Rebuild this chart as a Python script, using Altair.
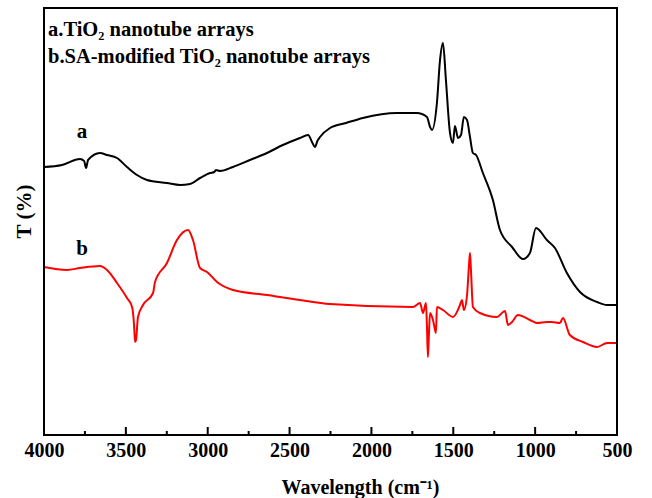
import altair as alt
import pandas as pd

# Curve a (black): wavenumber (cm-1) and transmittance (arbitrary units)
a_wave = [4000, 3890, 3780, 3755, 3743, 3731, 3658, 3615, 3554, 3493, 3432, 3371,
          3249, 3169, 3108, 3047, 2986, 2960, 2950, 2925, 2846, 2742, 2638, 2541,
          2437, 2387, 2360, 2345, 2330, 2314, 2253, 2155, 2052, 1844, 1722, 1661,
          1642, 1630, 1600, 1581, 1563, 1545, 1520, 1502, 1490, 1471, 1453, 1435,
          1416, 1398, 1380, 1361, 1319, 1258, 1215, 1141, 1074, 1032, 995, 928,
          879, 806, 726, 622, 561, 500]
a_T = [268, 270, 276, 274, 267, 275, 282, 280, 277, 268, 260, 255,
       252, 250, 251, 257, 262, 263, 265, 264, 268, 275, 282, 290,
       297, 300, 292, 288, 294, 298, 307, 312, 317, 322, 322, 318,
       308, 305, 332, 375, 392, 355, 302, 292, 309, 297, 300, 318,
       315, 298, 282, 280, 262, 235, 205, 188, 176, 182, 207, 195,
       187, 162, 143, 133, 130, 130]

# Curve b (red)
b_wave = [4000, 3860, 3780, 3658, 3615, 3554, 3493, 3462, 3450, 3444, 3438, 3426,
          3395, 3334, 3322, 3249, 3188, 3120, 3090, 3047, 3004, 2943, 2846, 2638,
          2437, 2253, 1746, 1703, 1685, 1667, 1661, 1655, 1649, 1642, 1624, 1606,
          1600, 1563, 1502, 1459, 1447, 1435, 1416, 1404, 1398, 1392, 1380, 1337,
          1233, 1196, 1184, 1166, 1141, 1105, 1032, 989, 928, 898, 849, 830,
          788, 708, 622, 561, 500]
b_T = [168, 165, 167, 169, 165, 152, 137, 128, 110, 93, 95, 118,
       130, 142, 153, 172, 195, 205, 195, 167, 163, 153, 145, 140,
       135, 131, 128, 132, 122, 132, 110, 78, 100, 122, 115, 102,
       128, 125, 118, 130, 135, 125, 140, 170, 182, 165, 128, 122,
       118, 123, 124, 110, 113, 120, 115, 112, 113, 113, 112, 117,
       100, 93, 88, 92, 92]

major_ticks = [4000, 3500, 3000, 2500, 2000, 1500, 1000, 500]
minor_ticks = [3750, 3250, 2750, 2250, 1750, 1250, 750]

legend_lines = ["a.TiO\u2082 nanotube arrays", "b.SA-modified TiO\u2082 nanotube arrays"]
curve_labels = ["a", "b"]

FONT = "Liberation Serif"
W, H = 573, 427

df = pd.concat([
    pd.DataFrame({"wave": a_wave, "T": a_T, "s": "a"}),
    pd.DataFrame({"wave": b_wave, "T": b_T, "s": "b"}),
])

xs = alt.Scale(domain=[4000, 500], nice=False, zero=False)
ys = alt.Scale(domain=[0, 427], nice=False, zero=False)

lines = alt.Chart(df).mark_line(strokeWidth=2, interpolate="monotone").encode(
    x=alt.X("wave:Q", scale=xs,
            axis=alt.Axis(values=major_ticks, format="d", ticks=False, domain=False,
                          grid=False, labelFont=FONT, labelFontSize=20,
                          labelFontWeight="bold", labelColor="black", labelPadding=5,
                          labelFlush=False,
                          title="Wavelength (cm\u207b\u00b9)", titleFont=FONT,
                          titleFontSize=20, titleFontWeight="bold", titleColor="black",
                          titleX=316, titleY=58, titleAlign="center",
                          titleBaseline="alphabetic")),
    y=alt.Y("T:Q", scale=ys,
            axis=alt.Axis(labels=False, ticks=False, domain=False, grid=False,
                          title="T (%)", titleFont=FONT, titleFontSize=21,
                          titleFontWeight="bold", titleColor="black",
                          titleX=-20, titleY=203, titleAngle=270,
                          titleAlign="center", titleBaseline="middle")),
    color=alt.Color("s:N", scale=alt.Scale(domain=["a", "b"], range=["#000000", "#ff0000"]),
                    legend=None),
    detail="s:N",
)

maj = alt.Chart(pd.DataFrame({"wave": major_ticks})).mark_rule(color="black", strokeWidth=2).encode(
    x=alt.X("wave:Q", scale=xs), y=alt.value(H), y2=alt.value(H - 8))
mnr = alt.Chart(pd.DataFrame({"wave": minor_ticks})).mark_rule(color="black", strokeWidth=2).encode(
    x=alt.X("wave:Q", scale=xs), y=alt.value(H), y2=alt.value(H - 4))

frame = alt.Chart(pd.DataFrame({"k": [0]})).mark_rect(
    fillOpacity=0, stroke="black", strokeWidth=2).encode(
    x=alt.value(0), x2=alt.value(W), y=alt.value(0), y2=alt.value(H))

leg = alt.Chart(pd.DataFrame({"t": legend_lines, "k": [0, 1]})).mark_text(
    font=FONT, fontSize=20.5, fontWeight="bold", align="left", baseline="alphabetic",
    color="black").encode(
    text="t:N",
    x=alt.value(4),
    y=alt.Y("k:Q", scale=alt.Scale(domain=[0, 1], range=[28, 55]), axis=None),
)

lab = alt.Chart(pd.DataFrame({"t": curve_labels, "k": [0, 1]})).mark_text(
    font=FONT, fontSize=21, fontWeight="bold", align="center", baseline="alphabetic",
    color="black").encode(
    text="t:N",
    x=alt.value(38),
    y=alt.Y("k:Q", scale=alt.Scale(domain=[0, 1], range=[130, 247]), axis=None),
)

chart = alt.layer(lines, maj, mnr, frame, leg, lab).resolve_scale(y="independent").properties(
    width=W, height=H,
    autosize=alt.AutoSizeParams(type="none"),
    padding={"left": 44, "top": 8, "right": 35, "bottom": 63},
).configure_view(stroke=None).configure(background="white")

chart.save("out.html", embed_options={"renderer": "svg", "actions": False})
